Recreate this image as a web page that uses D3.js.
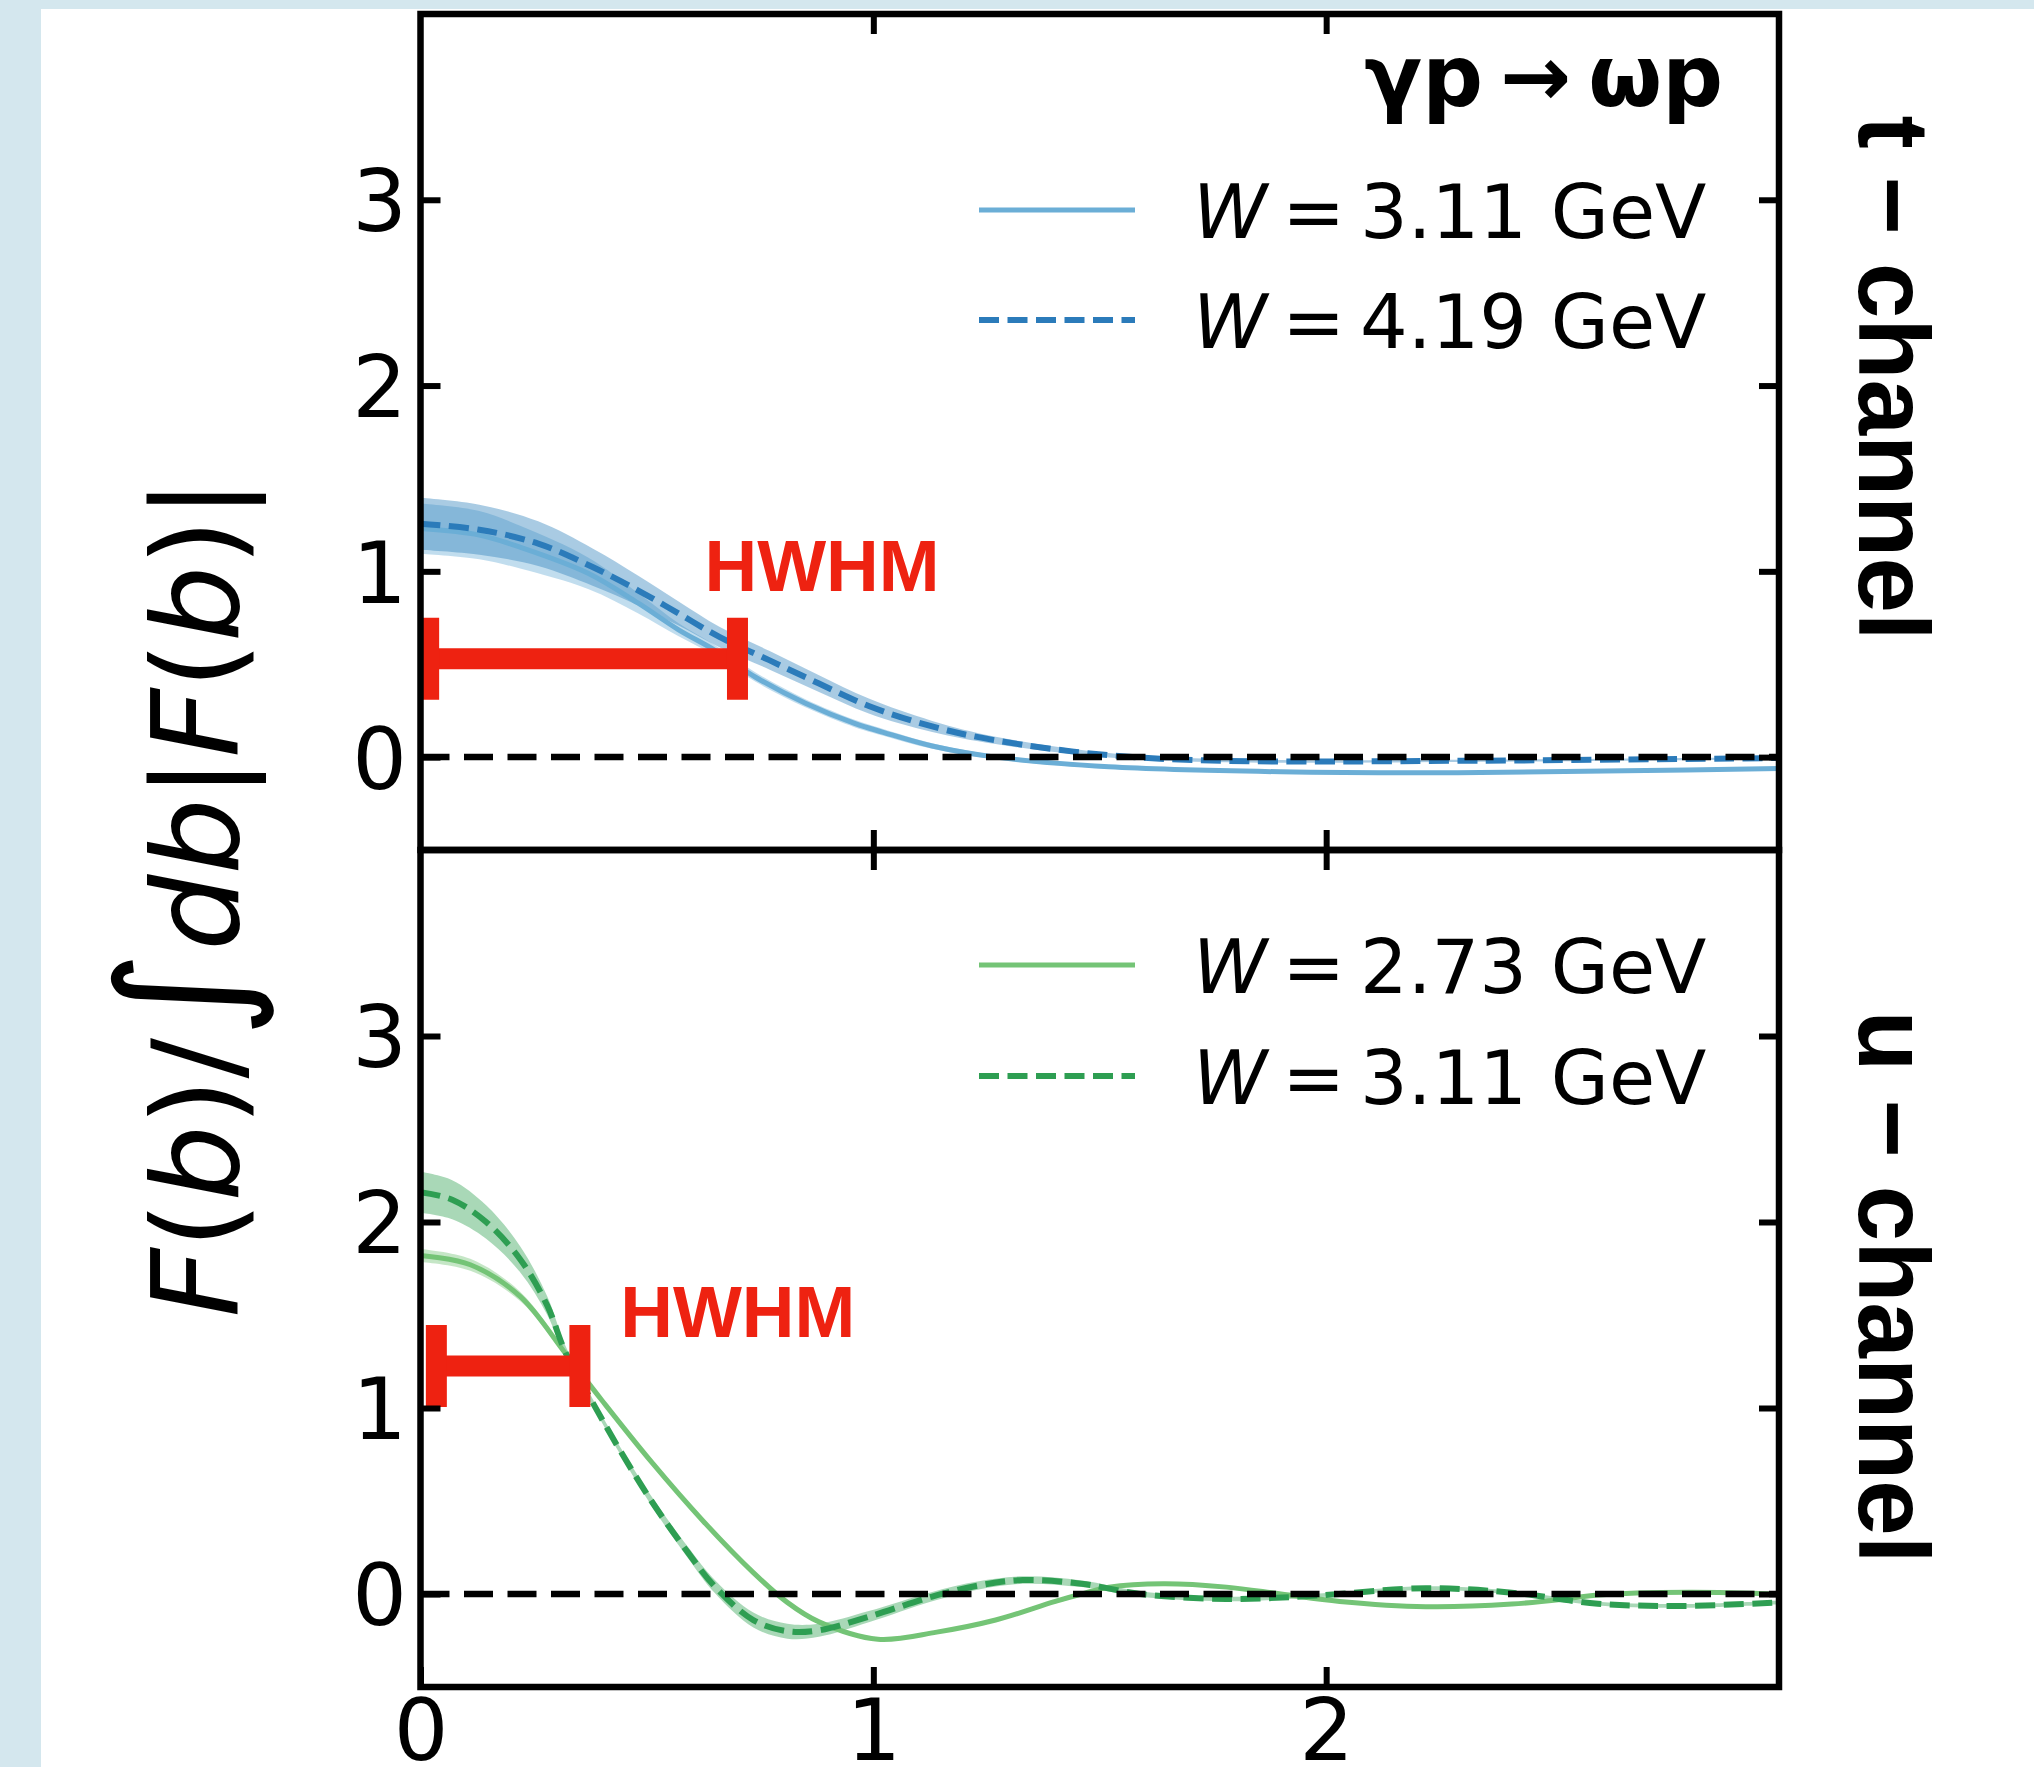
<!DOCTYPE html>
<html>
<head>
<meta charset="utf-8">
<script src="https://cdn.jsdelivr.net/npm/d3@7"></script>
<style>
  body { margin: 0; background: #d4e7ee; }
  svg { display: block; }
</style>
</head>
<body>
<svg id="chart" width="2034" height="1767"></svg>
<script>
// ---- data ----
const xDomain = [0, 3];
const yDomain = [-0.5, 4];
const yTicks = [0, 1, 2, 3];
const xTicks = [0, 1, 2];

// t-channel, W = 3.11 GeV (solid)
const tSolidB = [0, 0.13, 0.22, 0.37, 0.48, 0.57, 0.65, 0.74, 0.85, 0.96, 1.02, 1.13, 1.27, 1.52, 1.9, 2.29, 2.66, 3.0];
const tSolidF = [1.23, 1.195, 1.13, 0.99, 0.83, 0.685, 0.575, 0.43, 0.29, 0.18, 0.135, 0.06, 0.0, -0.052, -0.079, -0.084, -0.074, -0.061];
const tSolidErr = [0.135, 0.13, 0.115, 0.085, 0.055, 0.035, 0.028, 0.025, 0.022, 0.02, 0.018, 0.015, 0.012, 0.01, 0.008, 0.008, 0.008, 0.008];

// t-channel, W = 4.19 GeV (dashed)
const tDashB = [0, 0.13, 0.26, 0.38, 0.48, 0.57, 0.66, 0.77, 0.88, 0.99, 1.13, 1.27, 1.52, 1.78, 2.29, 3.0];
const tDashF = [1.256, 1.224, 1.149, 1.023, 0.898, 0.773, 0.647, 0.522, 0.396, 0.275, 0.165, 0.09, 0.01, -0.02, -0.02, -0.005];
const tDashErr = [0.14, 0.135, 0.12, 0.1, 0.08, 0.065, 0.055, 0.05, 0.045, 0.04, 0.03, 0.02, 0.012, 0.008, 0.006, 0.006];

// u-channel, W = 2.73 GeV (solid)
const uSolidB = [0, 0.11, 0.22, 0.32, 0.40, 0.51, 0.625, 0.735, 0.81, 0.88, 1.01, 1.14, 1.27, 1.40, 1.46, 1.52, 1.64, 1.78, 1.90, 2.03, 2.22, 2.41, 2.54, 2.6, 2.8, 3.0];
const uSolidF = [1.82, 1.77, 1.60, 1.294, 1.043, 0.71, 0.39, 0.115, -0.045, -0.15, -0.243, -0.205, -0.14, -0.041, 0.0, 0.036, 0.055, 0.037, 0.0, -0.04, -0.068, -0.054, -0.023, -0.005, 0.01, 0.0];
const uSolidErr = [0.035, 0.032, 0.025, 0.015, 0.01, 0.008, 0.008, 0.008, 0.008, 0.008, 0.008, 0.007, 0.007, 0.006, 0.006, 0.006, 0.006, 0.006, 0.006, 0.006, 0.006, 0.006, 0.006, 0.006, 0.006, 0.006];

// u-channel, W = 3.11 GeV (dashed)
const uDashB = [0, 0.07, 0.145, 0.22, 0.28, 0.32, 0.38, 0.44, 0.51, 0.59, 0.65, 0.735, 0.81, 0.88, 0.99, 1.13, 1.23, 1.33, 1.46, 1.59, 1.78, 1.97, 2.22, 2.41, 2.6, 2.79, 3.0];
const uDashF = [2.16, 2.12, 2.0, 1.8, 1.55, 1.3, 1.03, 0.775, 0.50, 0.225, 0.04, -0.14, -0.2, -0.195, -0.122, -0.014, 0.045, 0.075, 0.055, 0.0, -0.027, -0.01, 0.031, 0.007, -0.052, -0.064, -0.045];
const uDashErr = [0.11, 0.105, 0.09, 0.07, 0.05, 0.035, 0.02, 0.02, 0.025, 0.03, 0.035, 0.04, 0.04, 0.035, 0.03, 0.025, 0.022, 0.02, 0.018, 0.015, 0.012, 0.01, 0.01, 0.01, 0.01, 0.01, 0.01];

// HWHM markers (t panel, u panel)
const hwhmStart = [0.018, 0.035];
const hwhmEnd = [0.70, 0.352];
const hwhmLevel = [0.53, 1.226];

const tLegendW = ["3.11", "4.19"];
const uLegendW = ["2.73", "3.11"];
const channelNames = ["t \u2212 channel", "u \u2212 channel"];
const reaction = "\u03b3p\u2009\u2192\u2009\u03c9p";

// ---- layout ----
const left = 420.5, right = 1779;
const panels = [
  {top: 14, bottom: 850, name: channelNames[0], nameY: 378,
   series: [
     {b: tSolidB, f: tSolidF, err: tSolidErr, line: "#6baed6", band: "#6baed6", dash: null},
     {b: tDashB, f: tDashF, err: tDashErr, line: "#2b7bba", band: "#3182bd", dash: "20,8.5"}
   ],
   legend: tLegendW, legendY: [210, 320],
   hwhm: 0, hwhmText: [0.627, 0.895]},
  {top: 850, bottom: 1687, name: channelNames[1], nameY: 1287,
   series: [
     {b: uSolidB, f: uSolidF, err: uSolidErr, line: "#74c476", band: "#74c476", dash: null},
     {b: uDashB, f: uDashF, err: uDashErr, line: "#2e9e52", band: "#31a354", dash: "20,8.5"}
   ],
   legend: uLegendW, legendY: [965, 1076],
   hwhm: 1, hwhmText: [0.441, 1.382]}
];

const svg = d3.select("#chart");

svg.append("rect")
  .attr("x", 41).attr("y", 9)
  .attr("width", 2034 - 41).attr("height", 1767 - 9)
  .attr("fill", "#ffffff");

const x = d3.scaleLinear().domain(xDomain).range([left, right]);

panels.forEach((p, pi) => {
  const y = d3.scaleLinear().domain(yDomain).range([p.bottom, p.top]);
  const g = svg.append("g");

  g.append("clipPath").attr("id", "clip" + pi)
    .append("rect")
    .attr("x", left).attr("y", p.top)
    .attr("width", right - left).attr("height", p.bottom - p.top);

  const plot = g.append("g").attr("clip-path", `url(#clip${pi})`);

  // uncertainty bands
  p.series.forEach(s => {
    const pts = s.b.map((b, i) => ({b: b, f: s.f[i], e: s.err[i]}));
    const area = d3.area()
      .x(d => x(d.b))
      .y0(d => y(d.f - d.e))
      .y1(d => y(d.f + d.e))
      .curve(d3.curveCatmullRom.alpha(0.5));
    plot.append("path")
      .attr("d", area(pts))
      .attr("fill", s.band)
      .attr("fill-opacity", 0.42);
  });

  // central curves
  p.series.forEach(s => {
    const pts = s.b.map((b, i) => ({b: b, f: s.f[i]}));
    const line = d3.line()
      .x(d => x(d.b))
      .y(d => y(d.f))
      .curve(d3.curveCatmullRom.alpha(0.5));
    plot.append("path")
      .attr("d", line(pts))
      .attr("fill", "none")
      .attr("stroke", s.line)
      .attr("stroke-width", s.dash ? 6 : 5)
      .attr("stroke-dasharray", s.dash);
  });

  // zero line
  plot.append("line")
    .attr("x1", x(0)).attr("x2", x(3))
    .attr("y1", y(0)).attr("y2", y(0))
    .attr("stroke", "#000")
    .attr("stroke-width", 6.5)
    .attr("stroke-dasharray", "29,14.5");

  // HWHM bar
  const h = p.hwhm;
  const red = "#ee2211";
  plot.append("line")
    .attr("x1", x(hwhmStart[h])).attr("x2", x(hwhmEnd[h]))
    .attr("y1", y(hwhmLevel[h])).attr("y2", y(hwhmLevel[h]))
    .attr("stroke", red).attr("stroke-width", 21);
  [hwhmStart[h], hwhmEnd[h]].forEach(v => {
    plot.append("line")
      .attr("x1", x(v)).attr("x2", x(v))
      .attr("y1", y(hwhmLevel[h]) - 41).attr("y2", y(hwhmLevel[h]) + 41)
      .attr("stroke", red).attr("stroke-width", 21);
  });
  g.append("text")
    .attr("x", x(p.hwhmText[0])).attr("y", y(p.hwhmText[1]))
    .attr("font-family", "'Liberation Sans', Arial, sans-serif")
    .attr("font-weight", "bold")
    .attr("font-size", 73)
    .attr("fill", red)
    .text("HWHM");

  // ticks on all four sides, pointing in
  const tickStyle = sel => {
    sel.select(".domain").remove();
    sel.selectAll(".tick line").attr("stroke", "#000").attr("stroke-width", 6);
    sel.selectAll("text")
      .attr("font-family", "'DejaVu Sans', sans-serif")
      .attr("font-size", 86)
      .attr("fill", "#000");
  };

  g.append("g").attr("transform", `translate(${left},0)`)
    .call(d3.axisLeft(y).tickValues(yTicks).tickSize(-20).tickPadding(13.5).tickFormat(d3.format("d")))
    .call(tickStyle)
    .call(a => a.selectAll("text").attr("dy", "0.36em"));

  g.append("g").attr("transform", `translate(${right},0)`)
    .call(d3.axisRight(y).tickValues(yTicks).tickSize(-20).tickFormat(""))
    .call(tickStyle);

  g.append("g").attr("transform", `translate(0,${p.top})`)
    .call(d3.axisTop(x).tickValues([1, 2]).tickSize(-20).tickFormat(""))
    .call(tickStyle);

  const bottomAxis = d3.axisBottom(x).tickSize(-20);
  if (pi === panels.length - 1) {
    bottomAxis.tickValues(xTicks).tickFormat(d3.format("d"));
  } else {
    bottomAxis.tickValues([1, 2]).tickFormat("");
  }
  g.append("g").attr("transform", `translate(0,${p.bottom})`)
    .call(bottomAxis)
    .call(tickStyle)
    .call(a => a.selectAll("text").attr("y", 73).attr("dy", 0));

  // frame
  g.append("rect")
    .attr("x", left).attr("y", p.top)
    .attr("width", right - left).attr("height", p.bottom - p.top)
    .attr("fill", "none")
    .attr("stroke", "#000")
    .attr("stroke-width", 6.5);

  // legend
  p.legend.forEach((w, i) => {
    const s = p.series[i];
    const ly = p.legendY[i];
    g.append("line")
      .attr("x1", 979).attr("x2", 1135)
      .attr("y1", ly).attr("y2", ly)
      .attr("stroke", s.line)
      .attr("stroke-width", s.dash ? 6 : 5)
      .attr("stroke-dasharray", s.dash);
    const t = g.append("text")
      .attr("x", 1193).attr("y", ly + 28)
      .attr("font-family", "'DejaVu Sans', sans-serif")
      .attr("font-size", 75)
      .attr("fill", "#000");
    t.append("tspan").attr("font-style", "italic").text("W");
    t.append("tspan").text("\u2009=\u2009" + w + " GeV");
  });

  // channel label on the right
  svg.append("text")
    .attr("transform", `translate(1859,${p.nameY}) rotate(90)`)
    .attr("text-anchor", "middle")
    .attr("font-family", "'Liberation Sans', Arial, sans-serif")
    .attr("font-weight", "bold")
    .attr("font-size", 100)
    .attr("fill", "#000")
    .text(p.name);
});

// reaction title
svg.append("text")
  .attr("x", 1723).attr("y", 106)
  .attr("text-anchor", "end")
  .attr("font-family", "'DejaVu Sans', sans-serif")
  .attr("font-weight", "bold")
  .attr("font-size", 85)
  .attr("fill", "#000")
  .text(reaction);

// y axis label  F(b)/∫db|F(b)|
const yLabelParts = [
  {t: "F", it: true}, {t: "("}, {t: "b", it: true}, {t: ")"}, {t: "/"},
  {t: "\u222b", big: true}, {t: "db", it: true}, {t: "|"},
  {t: "F", it: true}, {t: "("}, {t: "b", it: true}, {t: ")"}, {t: "|"}
];
const yLabel = svg.append("text")
  .attr("transform", "translate(238,898) rotate(-90)")
  .attr("text-anchor", "middle")
  .attr("font-family", "'DejaVu Sans', sans-serif")
  .attr("font-size", 120)
  .attr("fill", "#000");
yLabelParts.forEach(part => {
  const ts = yLabel.append("tspan").text(part.t);
  if (part.it) ts.attr("font-style", "italic");
  if (part.big) ts.attr("font-size", 168);
});
</script>
</body>
</html>
